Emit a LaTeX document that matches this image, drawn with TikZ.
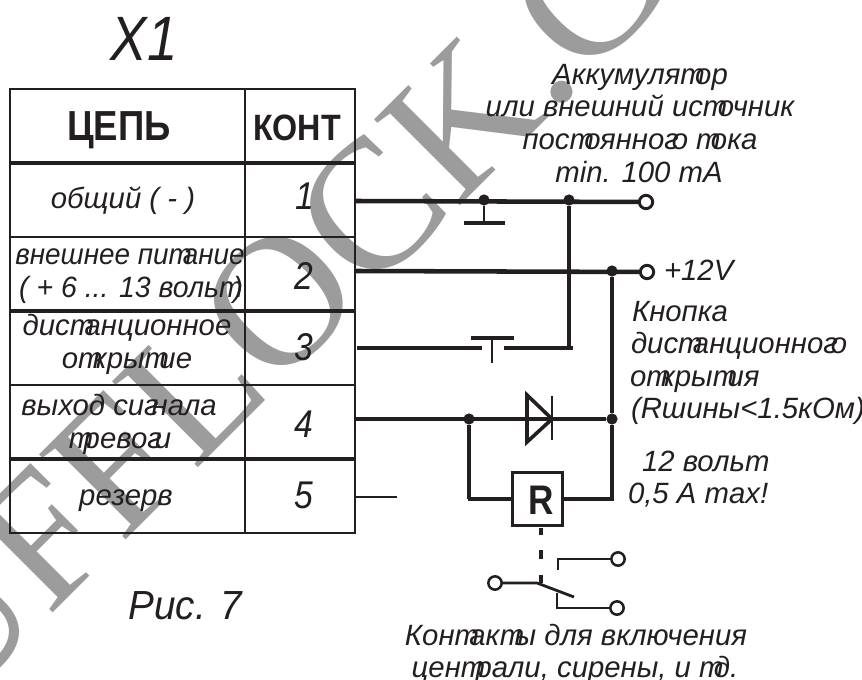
\documentclass[tikz,border=0pt]{standalone}
\usepackage{fontspec}
\setmainfont{Liberation Sans}
\newfontfamily\wmfont{Liberation Serif}
\newcommand\Tk{т\kern-.33em}
\newcommand\Gk{г\kern-.24em}
\definecolor{ink}{HTML}{231F20}
\definecolor{wm}{HTML}{9C9C9C}
\tikzset{
  lbl/.style={inner sep=0pt,outer sep=0pt,anchor=base,text=ink,font=\itshape\fontsize{22}{24}\selectfont},
  lblw/.style={lbl,anchor=base west},
  num/.style={lbl,font=\itshape\fontsize{29}{32}\selectfont,xscale=.87},
  wire/.style={draw=ink,line width=3.4pt},
  thinw/.style={draw=ink,line width=2.1pt},
  hair/.style={draw=ink,line width=1.2pt},
  grid/.style={draw=ink,line width=1.6pt},
  gridt/.style={draw=ink,line width=2.5pt},
  term/.style={circle,draw=ink,fill=white,line width=2.2pt,minimum size=10pt,inner sep=0pt,outer sep=0pt},
  dot/.style={circle,fill=ink,minimum size=8.4pt,inner sep=0pt,outer sep=0pt},
  barw/.style={draw=ink,line width=3.4pt}
}
\begin{document}
\begin{tikzpicture}[x=0.75pt,y=-0.75pt]
\useasboundingbox (0,0) rectangle (862,680);
\fill[white] (0,0) rectangle (862,680);
\begin{scope}
\clip (0,0) rectangle (862,680);
\node[inner sep=0pt,outer sep=0pt,anchor=base west,rotate=45,text=wm,font=\wmfont\fontsize{139}{139}\selectfont] (watermark) at (-46,712) {UFFLOCK.C};
\end{scope}
% table
\draw[grid] (10,89) rectangle (355,533);
\draw[grid] (245,89) -- (245,533);
\draw[gridt] (10,163) -- (355,163);
\draw[grid] (10,237) -- (355,237);
\draw[gridt] (10,311) -- (355,311);
\draw[grid] (10,385) -- (355,385);
\draw[gridt] (10,459) -- (355,459);
% table text
\node[lbl,font=\itshape\fontsize{47}{50}\selectfont,xscale=.87] (x1) at (144,61) {X1};
\node[lbl,font=\bfseries\fontsize{31.5}{34}\selectfont,xscale=.87] (chain) at (119,141) {ЦЕПЬ};
\node[lbl,font=\bfseries\fontsize{27.5}{30}\selectfont,xscale=.88] (cont) at (297,141) {КОНТ};
\node[lbl] (c1) at (123,209) {общий ( - )};
\node[lbl,xscale=.95] (c2a) at (130,265) {внешнее пи\Tk ание};
\node[lbl,xscale=.97] (c2b) at (131,298) {( + 6 ... 13 воль\Tk)};
\node[lbl] (c3a) at (127,335) {дис\Tk анционное};
\node[lbl] (c3b) at (127,368) {о\Tk кры\Tk ие};
\node[lbl] (c4a) at (119,415) {выход си\Gk нала};
\node[lbl] (c4b) at (120,448) {\Tk рево\Gk и};
\node[lbl] (c5) at (126,505) {резерв};
\node[num] (n1) at (305,210) {1};
\node[num] (n2) at (304,290) {2};
\node[num] (n3) at (304,360) {3};
\node[num] (n4) at (304,437) {4};
\node[num] (n5) at (304,508) {5};
% coordinates
\coordinate (p1) at (356,201);
\coordinate (p2) at (356,271);
\coordinate (p3) at (357,348);
\coordinate (p4) at (356,419);
\coordinate (p5) at (356,497);
\coordinate (p5e) at (397,497);
\node[dot] (j1) at (484,200) {};
\node[dot] (j2) at (569,200) {};
\node[dot] (j3) at (612,271) {};
\node[dot] (j4) at (469,419) {};
\node[dot] (j5) at (612,419) {};
\node[term] (t1) at (646,202) {};
\node[term] (t2) at (647,272) {};
\coordinate (gnd) at (484,223);
\coordinate (gndl) at (464,223);
\coordinate (gndr) at (505,223);
\coordinate (s3l) at (482,348);
\coordinate (s3r) at (504,348);
\coordinate (s3c) at (573,348);
\coordinate (bl) at (471,338);
\coordinate (br) at (514,338);
\coordinate (bm) at (492,338);
\coordinate (bs) at (492,363);
% wires
\draw[wire] (p1) -- (t1);
\draw[wire] (p2) -- (t2);
\draw[wire] (p3) -- (s3l);
\draw[wire] (s3r) -- (s3c);
\draw[wire] (j2) -- (569,350);
\draw[wire] (j3) -- (j5);
\draw[wire] (p4) -- (j5);
\draw[hair] (p5) -- (p5e);
\draw[thinw] (j1) -- (gnd);
\draw[barw] (gndl) -- (gndr);
\draw[barw] (bl) -- (br);
\draw[thinw] (bm) -- (bs);
% diode
\coordinate (da) at (527,395);
\coordinate (db) at (527,442);
\coordinate (dc) at (552,419);
\filldraw[draw=ink,fill=white,line width=2.7pt,miter limit=3] (da) -- (db) -- (dc) -- cycle;
\draw[draw=ink,line width=3pt] (527,419) -- (552,419);
\draw[draw=ink,line width=1.6pt] (552,396) -- (552,440);
% relay
\node[draw=ink,line width=2.4pt,fill=white,minimum width=38pt,minimum height=40pt,inner sep=0pt,outer sep=0pt] (relay) at (537.5,499) {};
\node[inner sep=0pt,anchor=base,text=ink,font=\bfseries\fontsize{31}{33}\selectfont,xscale=.85] (rtxt) at (541,514) {R};
\draw[wire] (j4) -- (469,499);
\draw[draw=ink,line width=2.5pt] (467.5,499) -- (relay.west);
\draw[draw=ink,line width=2.5pt] (relay.east) -| (j5);
% switch
\node[term,line width=1.9pt] (sw0) at (495,583) {};
\node[term,line width=1.9pt] (sw1) at (618,559) {};
\node[term,line width=1.9pt] (sw2) at (617,608) {};
\coordinate (piv) at (537,583);
\coordinate (lev) at (574,597);
\draw[draw=ink,line width=3.4pt] (541,528) -- (541,535);
\draw[draw=ink,line width=3.4pt] (541,550) -- (541,559);
\draw[draw=ink,line width=3.4pt] (541,575) -- (541,583);
\draw[thinw] (sw0) -- (piv) -- (lev);
\draw[thinw] (558,570) |- (sw1);
\draw[thinw] (557,593) |- (sw2);
% right labels
\node[lbl] (a1) at (640,85) {Аккумуля\Tk ор};
\node[lbl] (a2) at (640,117) {или внешний ис\Tk очник};
\node[lbl] (a3) at (640,150) {пос\Tk оянно\Gk о \Tk ока};
\node[lbl] (a4) at (639,183) {min. 100 mA};
\node[lblw] (v12) at (664,281) {+12V};
\node[lblw] (k1) at (632,321) {Кнопка};
\node[lblw] (k2) at (631,353) {дис\Tk анционно\Gk о};
\node[lblw] (k3) at (630,386) {о\Tk кры\Tk ия};
\node[lblw] (k4) at (631,418) {(Rшины<1.5кОм)};
\node[lblw] (l1) at (642,471) {12 воль\Tk};
\node[lblw] (l2) at (628,503) {0,5 A max!};
\node[lbl] (b1) at (576,645) {Кон\Tk ак\Tk ы для включения};
\node[lbl] (b2) at (575,677) {цен\Tk рали, сирены, и \Tk д.};
\node[lbl,font=\itshape\fontsize{30.5}{33}\selectfont,xscale=.95] (fig) at (185,619) {Рис. 7};
\end{tikzpicture}
\end{document}
